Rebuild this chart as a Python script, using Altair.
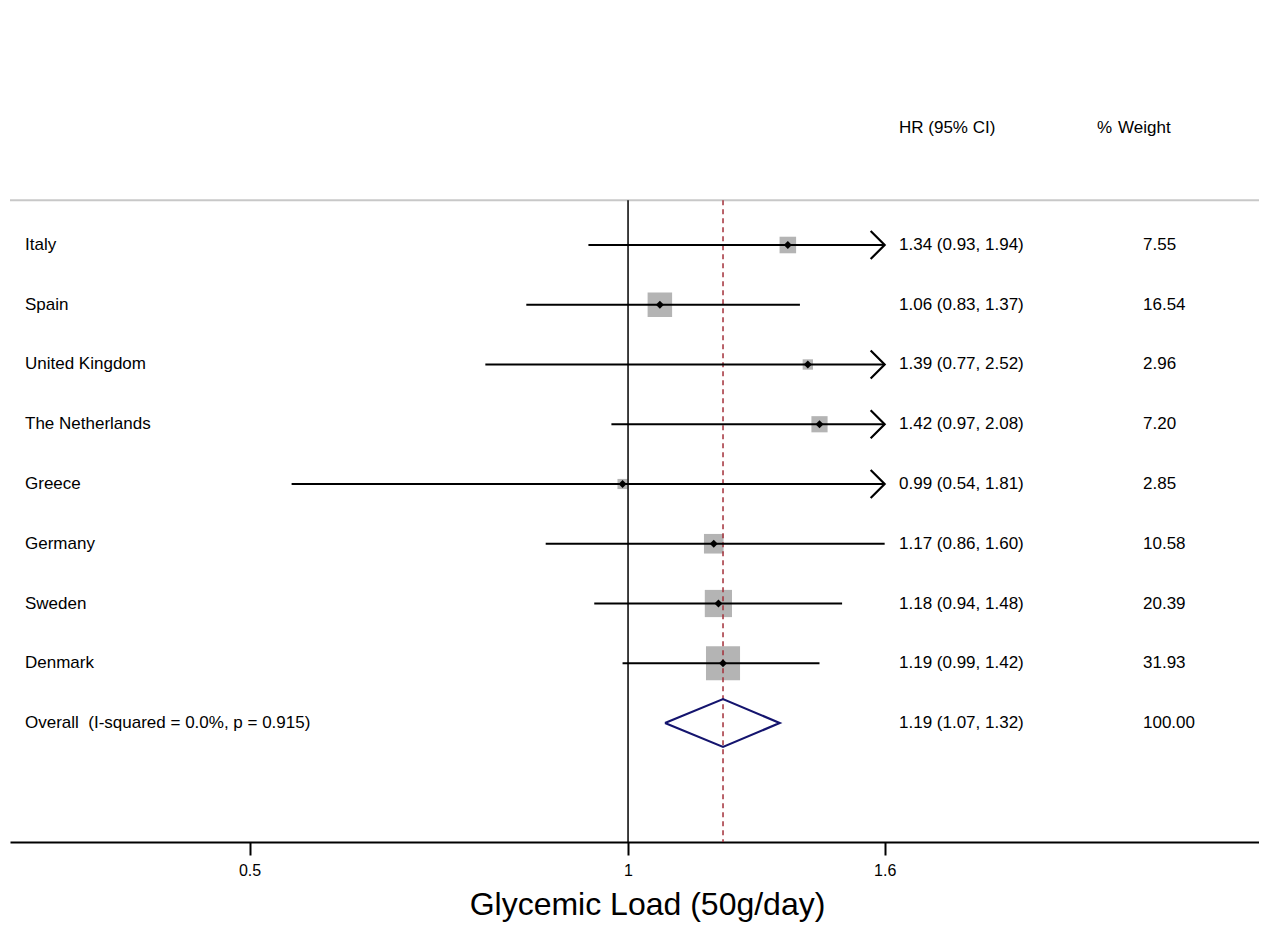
import altair as alt
import pandas as pd

# ---- data -------------------------------------------------------------
studies = ["Italy", "Spain", "United Kingdom", "The Netherlands", "Greece",
           "Germany", "Sweden", "Denmark"]
hr = [1.34, 1.06, 1.39, 1.42, 0.99, 1.17, 1.18, 1.19]
ci_low = [0.93, 0.83, 0.77, 0.97, 0.54, 0.86, 0.94, 0.99]
ci_high = [1.94, 1.37, 2.52, 2.08, 1.81, 1.60, 1.48, 1.42]
weights = [7.55, 16.54, 2.96, 7.20, 2.85, 10.58, 20.39, 31.93]

overall_label = "Overall\u00a0 (I-squared = 0.0%, p = 0.915)"
overall_hr = 1.19
overall_low = 1.07
overall_high = 1.32
overall_weight = 100.00

tick_values = [0.5, 1, 1.6]
axis_title = "Glycemic Load (50g/day)"
header_ci = "HR (95% CI)"
header_pct = "%"
header_weight = "Weight"

clip_max = 1.6   # CIs beyond this are drawn with an arrow

# ---- tables -------------------------------------------------------------
n = len(studies)
rows = list(range(1, n + 1))
overall_row = n + 1

study_df = pd.DataFrame({
    "study": studies,
    "hr": hr,
    "lo": ci_low,
    "hi": ci_high,
    "hi_clip": [min(h, clip_max) for h in ci_high],
    "arrow": [h > clip_max for h in ci_high],
    "weight": weights,
    "row": rows,
})

text_df = pd.DataFrame({
    "label": studies + [overall_label],
    "ci_text": [f"{e:.2f} ({l:.2f}, {h:.2f})" for e, l, h in zip(hr, ci_low, ci_high)]
               + [f"{overall_hr:.2f} ({overall_low:.2f}, {overall_high:.2f})"],
    "w_text": [f"{w:.2f}" for w in weights] + [f"{overall_weight:.2f}"],
    "row": rows + [overall_row],
})

half_h = 0.4
diamond_df = pd.DataFrame({
    "x": [overall_low, overall_hr, overall_high, overall_hr, overall_low],
    "row": [overall_row, overall_row - half_h, overall_row, overall_row + half_h, overall_row],
    "idx": [0, 1, 2, 3, 4],
})

one = pd.DataFrame({"v": [1]})

# ---- scales / axis ------------------------------------------------------
FONT = "Liberation Sans"
top_row = 0.25
bottom_row = 10.9916
header_row = -0.95
xs = alt.Scale(type="log", domain=[0.3224, 3.176], nice=False)
ys = alt.Scale(domain=[-2.9665, bottom_row], reverse=True, nice=False, zero=False)

xaxis = alt.Axis(values=tick_values, title=axis_title, grid=False,
                 labelExpr="'' + datum.value",
                 domainColor="black", domainWidth=2,
                 tickColor="black", tickWidth=2, tickSize=13,
                 labelFont=FONT, labelFontSize=16, labelColor="black", labelPadding=7,
                 labelFlush=False,
                 titleFont=FONT, titleFontSize=32, titleFontWeight="normal",
                 titleColor="black", titlePadding=11, titleX=637, titleAlign="center")

Y = lambda f="row:Q": alt.Y(f, scale=ys, axis=None)

squares = alt.Chart(study_df).mark_point(
    shape="square", filled=True, color="#b4b4b4", opacity=1
).encode(
    x=alt.X("hr:Q", scale=xs, axis=xaxis),
    y=Y(),
    size=alt.Size("weight:Q", scale=alt.Scale(type="linear", domain=[0, 31.93], range=[0, 1160]),
                  legend=None),
)

top_line = alt.Chart(one).mark_rule(color="#c8c8c8", strokeWidth=2).encode(
    y=alt.Y(datum=top_row, scale=ys, axis=None)
)

null_line = alt.Chart(one).mark_rule(color="black", strokeWidth=1.5).encode(
    x=alt.X(datum=1, scale=xs, axis=xaxis),
    y=alt.Y(datum=top_row, scale=ys, axis=None),
    y2=alt.Y2(datum=bottom_row),
)

pooled_line = alt.Chart(one).mark_rule(color="#a3303a", strokeWidth=1.5,
                                       strokeDash=[5, 4]).encode(
    x=alt.X(datum=overall_hr, scale=xs, axis=xaxis),
    y=alt.Y(datum=top_row, scale=ys, axis=None),
    y2=alt.Y2(datum=bottom_row),
)

ci_lines = alt.Chart(study_df).mark_rule(color="black", strokeWidth=2.2).encode(
    x=alt.X("lo:Q", scale=xs, axis=xaxis),
    x2="hi_clip:Q",
    y=Y(),
)

arrows = alt.Chart(study_df).transform_filter("datum.arrow").mark_point(
    shape="M-1,-1L0,0L-1,1", filled=False, color="black", strokeWidth=2.2,
    size=784, opacity=1
).encode(
    x=alt.X("hi_clip:Q", scale=xs, axis=xaxis),
    y=Y(),
)

dots = alt.Chart(study_df).mark_point(
    shape="diamond", filled=True, color="black", size=64, opacity=1
).encode(
    x=alt.X("hr:Q", scale=xs, axis=xaxis),
    y=Y(),
)

diamond = alt.Chart(diamond_df).mark_line(color="#14146e", strokeWidth=2.2).encode(
    x=alt.X("x:Q", scale=xs, axis=xaxis),
    y=Y(),
    order="idx:Q",
)

txt = dict(align="left", baseline="middle", font=FONT, fontSize=17, color="black")

labels = alt.Chart(text_df).mark_text(**txt).encode(
    x=alt.value(15), y=Y(), text="label:N")
ci_col = alt.Chart(text_df).mark_text(**txt).encode(
    x=alt.value(889), y=Y(), text="ci_text:N")
w_col = alt.Chart(text_df).mark_text(**txt).encode(
    x=alt.value(1133), y=Y(), text="w_text:N")

hdr_y = alt.Y(datum=header_row, scale=ys, axis=None)
h1 = alt.Chart(one).mark_text(**txt).encode(x=alt.value(889), y=hdr_y, text=alt.value(header_ci))
h2 = alt.Chart(one).mark_text(**txt).encode(x=alt.value(1087), y=hdr_y, text=alt.value(header_pct))
h3 = alt.Chart(one).mark_text(**txt).encode(x=alt.value(1108), y=hdr_y, text=alt.value(header_weight))

chart = alt.layer(
    squares, top_line, null_line, pooled_line, ci_lines, arrows, dots, diamond,
    labels, ci_col, w_col, h1, h2, h3
).properties(
    width=1249, height=834,
    padding={"left": 2, "top": 0, "right": 0, "bottom": 92},
    autosize=alt.AutoSizeParams(type="none"),
    background="white",
).configure_view(stroke=None)

chart.save("out.html", embed_options={"renderer": "svg", "actions": False})
